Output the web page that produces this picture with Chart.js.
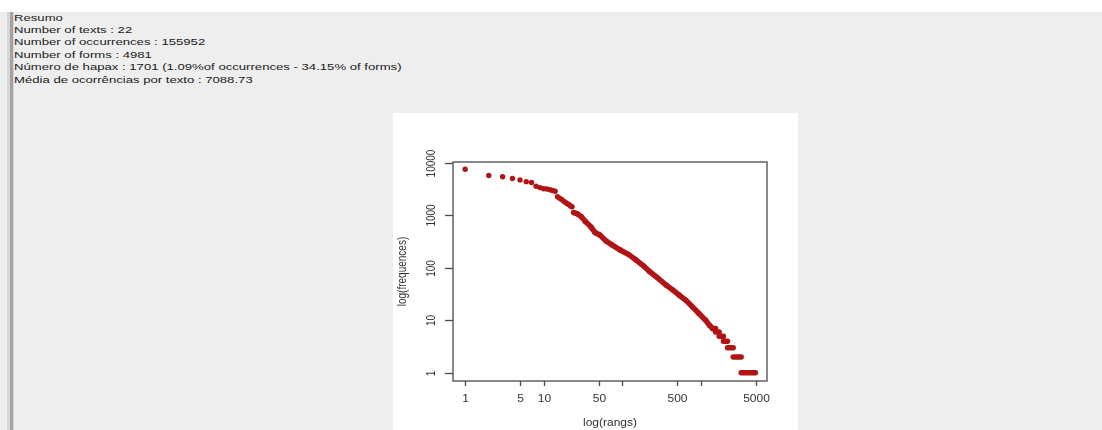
<!DOCTYPE html>
<html>
<head>
<meta charset="utf-8">
<script src="https://cdn.jsdelivr.net/npm/chart.js@4/dist/chart.umd.min.js"></script>
<style>
  html, body { margin: 0; padding: 0; }
  body { width: 1102px; height: 430px; background: #eeeeee; position: relative; overflow: hidden; font-family: "Liberation Sans", Arial, sans-serif; }
  #topstrip { position: absolute; left: 0; top: 0; width: 1102px; height: 12px; background: #ffffff; }
  #bar { position: absolute; left: 7px; top: 12px; width: 7px; height: 418px; background: #d6d6d6; }
  #bar div { position: absolute; left: 3px; top: 0; width: 3px; height: 100%; background: #a2a2a2; }
  #summary { position: absolute; left: 14px; top: 11.5px; font-size: 9.5px; line-height: 12.4px; color: #1a1a1a; transform-origin: 0 0; white-space: nowrap; }
  #summary span { display: inline-block; }
  #panel { position: absolute; left: 393px; top: 113px; width: 405px; height: 317px; background: #ffffff; }
</style>
</head>
<body>
<div id="topstrip"></div>
<div id="bar"><div></div></div>
<div id="summary">
  <span>Resumo</span><br>
  <span>Number of texts : 22</span><br>
  <span>Number of occurrences : 155952</span><br>
  <span>Number of forms : 4981</span><br>
  <span id="widest">Número de hapax : 1701 (1.09%of occurrences - 34.15% of forms)</span><br>
  <span>Média de ocorrências por texto : 7088.73</span>
</div>
<div id="panel"><canvas id="zipf" width="405" height="317"></canvas></div>
<script>
// stretch summary text to the width seen in the screenshot
const widest = document.getElementById('widest');
document.getElementById('summary').style.transform = 'scaleX(' + (387 / widest.offsetWidth) + ')';

// first ranks, drawn as single dots
const topRanks = [1, 2, 3, 4, 5, 6, 7, 8, 9, 10, 11, 12, 13, 14, 15, 16, 17, 18, 19, 20, 21, 22, 23, 24, 25, 26];
const topFreqs = [7500, 5700, 5400, 5000, 4700, 4350, 4200, 3550, 3350, 3200, 3150, 3050, 2950, 2850, 2250, 2100, 2000, 1850, 1750, 1650, 1600, 1500, 1450, 1130, 1100, 1080];

// dense middle part of the curve
const bandRanks = [27, 30, 34, 40, 45, 52, 63, 75, 93, 120, 151, 185, 223, 280, 362, 440, 534, 650, 787, 950, 1159, 1300, 1420];
const bandFreqs = [1060, 950, 760, 600, 470, 420, 320, 270, 220, 180, 140, 110, 85, 65, 47, 38, 30, 24, 18, 13.5, 10, 8, 7];

// tail: runs of equal frequency
const plateauFreqs = [7, 6, 5, 4, 3, 2, 1];
const plateauStart = [1420, 1550, 1720, 1950, 2200, 2600, 3281];
const plateauEnd = [1549, 1719, 1949, 2199, 2599, 3280, 4981];

// axis ticks
const xTicks = [1, 5, 10, 50, 100, 500, 1000, 5000];
const xLabels = ['1', '5', '10', '50', '', '500', '', '5000'];
const yTicks = [1, 10, 100, 1000, 10000];
const yLabels = ['1', '10', '100', '1000', '10000'];

const dotColor = '#b01414';

const topPoints = topRanks.map((r, i) => ({ x: r, y: topFreqs[i] }));
const bandPoints = bandRanks.map((r, i) => ({ x: r, y: bandFreqs[i] }));
const plateauPoints = [];
plateauFreqs.forEach((f, i) => {
  plateauPoints.push({ x: plateauStart[i], y: f });
  plateauPoints.push({ x: plateauEnd[i], y: f });
  plateauPoints.push({ x: plateauEnd[i], y: null });
});

// R-style frame, ticks and labels
const rAxes = {
  id: 'rAxes',
  afterDatasetsDraw(chart) {
    const ctx = chart.ctx;
    const a = chart.chartArea;
    const xs = chart.scales.x;
    const ys = chart.scales.y;
    ctx.save();
    ctx.strokeStyle = '#4a4a4a';
    ctx.lineWidth = 1.3;
    ctx.strokeRect(a.left, a.top, a.right - a.left, a.bottom - a.top);

    ctx.fillStyle = '#333';
    ctx.font = '10px "Liberation Sans", Arial, sans-serif';
    ctx.textAlign = 'center';
    ctx.textBaseline = 'middle';

    xTicks.forEach((t, i) => {
      const px = Math.round(xs.getPixelForValue(t)) + 0.5;
      ctx.beginPath();
      ctx.moveTo(px, a.bottom);
      ctx.lineTo(px, a.bottom + 5);
      ctx.stroke();
      if (xLabels[i]) {
        ctx.save();
        ctx.translate(px, a.bottom + 18);
        ctx.scale(1.2, 1);
        ctx.fillText(xLabels[i], 0, 0);
        ctx.restore();
      }
    });

    yTicks.forEach((t, i) => {
      const py = Math.round(ys.getPixelForValue(t)) + 0.5;
      ctx.beginPath();
      ctx.moveTo(a.left, py);
      ctx.lineTo(a.left - 8, py);
      ctx.stroke();
      ctx.save();
      ctx.translate(a.left - 21, py);
      ctx.scale(1.2, 1);
      ctx.rotate(-Math.PI / 2);
      ctx.fillText(yLabels[i], 0, 0);
      ctx.restore();
    });

    ctx.save();
    ctx.translate((a.left + a.right) / 2, a.bottom + 42);
    ctx.scale(1.2, 1);
    ctx.fillText('log(rangs)', 0, 0);
    ctx.restore();

    ctx.save();
    ctx.translate(a.left - 50, (a.top + a.bottom) / 2);
    ctx.scale(1.2, 1);
    ctx.rotate(-Math.PI / 2);
    ctx.fillText('log(frequences)', 0, 0);
    ctx.restore();

    ctx.restore();
  }
};

new Chart(document.getElementById('zipf'), {
  type: 'scatter',
  data: {
    datasets: [
      {
        data: topPoints,
        backgroundColor: dotColor,
        borderWidth: 0,
        pointRadius: 2.7,
        showLine: false
      },
      {
        data: bandPoints,
        backgroundColor: dotColor,
        borderColor: dotColor,
        borderWidth: 5.5,
        borderCapStyle: 'round',
        borderJoinStyle: 'round',
        pointRadius: 2.7,
        pointBorderWidth: 0,
        showLine: true
      },
      {
        data: plateauPoints,
        borderColor: dotColor,
        borderWidth: 5.5,
        borderCapStyle: 'round',
        pointRadius: 0,
        showLine: true,
        spanGaps: false
      }
    ]
  },
  options: {
    responsive: false,
    animation: false,
    layout: { padding: { left: 60, top: 49, right: 31, bottom: 49 } },
    plugins: { legend: { display: false }, tooltip: { enabled: false } },
    scales: {
      x: { type: 'logarithmic', min: 0.711, max: 7000, display: false },
      y: { type: 'logarithmic', min: 0.70, max: 10300, display: false }
    }
  },
  plugins: [rAxes]
});
</script>
</body>
</html>
